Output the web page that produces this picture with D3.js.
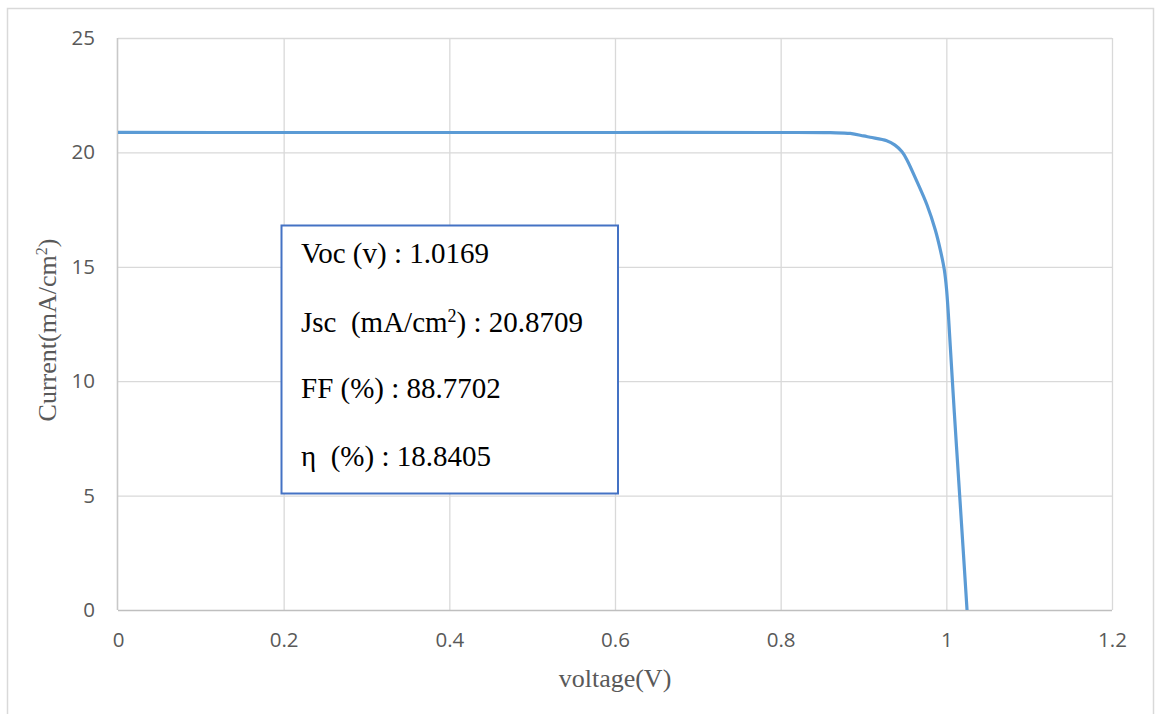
<!DOCTYPE html>
<html>
<head>
<meta charset="utf-8">
<script src="https://cdn.jsdelivr.net/npm/d3@7"></script>
<style>
  html, body { margin: 0; padding: 0; background: #ffffff; }
  svg { display: block; }
  text { white-space: pre; }
</style>
</head>
<body>
<svg id="chart" width="1155" height="714"></svg>
<script>
// J–V curve of the solar cell
const voltage = [0, 0.2, 0.4, 0.6, 0.8, 0.86, 0.884, 0.9, 0.908, 0.928, 0.938, 0.9465, 0.9525, 0.9646, 0.9767, 0.9867, 0.9928, 0.9976, 1.0002, 1.0024, 1.0048, 1.0097, 1.0149, 1.0201, 1.025];
const current = [20.8709, 20.87, 20.87, 20.87, 20.87, 20.86, 20.83, 20.72, 20.66, 20.51, 20.32, 20.03, 19.67, 18.72, 17.7, 16.61, 15.73, 14.86, 14.05, 12.95, 11.51, 8.6, 5.68, 2.77, 0];

const xTicks = [0, 0.2, 0.4, 0.6, 0.8, 1, 1.2];
const yTicks = [0, 5, 10, 15, 20, 25];

// Device parameters shown in the annotation box
const paramLabels = ["Voc (v) : ", "Jsc  (mA/cm", "FF (%) : ", "η  (%) : "];
const paramValues = ["1.0169", "20.8709", "88.7702", "18.8405"];

const svg = d3.select("#chart");
const plot = { left: 118, right: 1112, top: 38, bottom: 610 };

const x = d3.scaleLinear().domain([0, 1.2]).range([plot.left, plot.right]);
const y = d3.scaleLinear().domain([0, 25]).range([plot.bottom, plot.top]);

// outer chart frame
svg.append("rect")
  .attr("x", 7.5).attr("y", 8.5)
  .attr("width", 1146).attr("height", 730)
  .attr("fill", "none")
  .attr("stroke", "#d9d9d9")
  .attr("stroke-width", 1.5);

// gridlines
const grid = svg.append("g");
grid.selectAll("line.h").data(yTicks.filter(d => d > 0)).join("line")
  .attr("x1", plot.left).attr("x2", plot.right)
  .attr("y1", d => y(d) + 0.5).attr("y2", d => y(d) + 0.5)
  .attr("stroke", "#d9d9d9").attr("stroke-width", 1.3);
grid.selectAll("line.v").data(xTicks.filter(d => d > 0)).join("line")
  .attr("y1", plot.top).attr("y2", plot.bottom)
  .attr("x1", d => x(d) + 0.5).attr("x2", d => x(d) + 0.5)
  .attr("stroke", "#d9d9d9").attr("stroke-width", 1.3);

// axis lines
svg.append("line")
  .attr("x1", plot.left).attr("x2", plot.right)
  .attr("y1", plot.bottom + 0.5).attr("y2", plot.bottom + 0.5)
  .attr("stroke", "#bfbfbf").attr("stroke-width", 1.6);
svg.append("line")
  .attr("x1", plot.left - 0.5).attr("x2", plot.left - 0.5)
  .attr("y1", plot.top).attr("y2", plot.bottom)
  .attr("stroke", "#c8c8c8").attr("stroke-width", 1.6);

// tick labels
const tickFont = "'Open Sans', 'Liberation Sans', sans-serif";
const yAxis = d3.axisLeft(y).tickValues(yTicks).tickSize(0).tickPadding(23).tickFormat(d3.format("d"));
const gy = svg.append("g").attr("transform", `translate(${plot.left},0)`).call(yAxis);
const xAxis = d3.axisBottom(x).tickValues(xTicks).tickSize(0).tickPadding(22).tickFormat(d => String(d));
const gx = svg.append("g").attr("transform", `translate(0,${plot.bottom})`).call(xAxis);
[gx, gy].forEach(g => {
  g.select(".domain").remove();
  g.selectAll("text")
    .attr("fill", "#595959")
    .style("font-family", tickFont)
    .style("font-size", "20.5px");
});

// J–V curve
const pts = voltage.map((v, i) => [v, current[i]]);
svg.append("path")
  .datum(pts)
  .attr("fill", "none")
  .attr("stroke", "#5b9bd5")
  .attr("stroke-width", 3.2)
  .attr("stroke-linejoin", "round")
  .attr("d", d3.line().x(d => x(d[0])).y(d => y(d[1])).curve(d3.curveCatmullRom.alpha(0.5)));

// axis titles
const serif = "'Liberation Serif', 'Times New Roman', serif";
svg.append("text")
  .attr("x", 615).attr("y", 687)
  .attr("text-anchor", "middle")
  .attr("fill", "#595959")
  .style("font-family", serif).style("font-size", "26px")
  .text("voltage(V)");

const yt = svg.append("text")
  .attr("transform", "translate(56,330) rotate(-90)")
  .attr("text-anchor", "middle")
  .attr("fill", "#595959")
  .style("font-family", serif).style("font-size", "26px");
yt.append("tspan").text("Current(mA/cm");
yt.append("tspan").attr("dy", -9).style("font-size", "16px").text("2");
yt.append("tspan").attr("dy", 9).text(")");

// annotation box with device parameters
svg.append("rect")
  .attr("x", 281.5).attr("y", 225.5)
  .attr("width", 336.5).attr("height", 268)
  .attr("fill", "#ffffff")
  .attr("stroke", "#4472c4")
  .attr("stroke-width", 2);

const baselines = [263, 332, 398, 466];
const box = svg.append("g")
  .style("font-family", serif).style("font-size", "29px")
  .attr("fill", "#000000");

paramLabels.forEach((lab, i) => {
  const t = box.append("text").attr("x", 301).attr("y", baselines[i]);
  if (i === 1) {
    t.append("tspan").text(lab);
    t.append("tspan").attr("dy", -10).style("font-size", "18px").text("2");
    t.append("tspan").attr("dy", 10).text(") : " + paramValues[i]);
  } else {
    t.text(lab + paramValues[i]);
  }
});
</script>
</body>
</html>
